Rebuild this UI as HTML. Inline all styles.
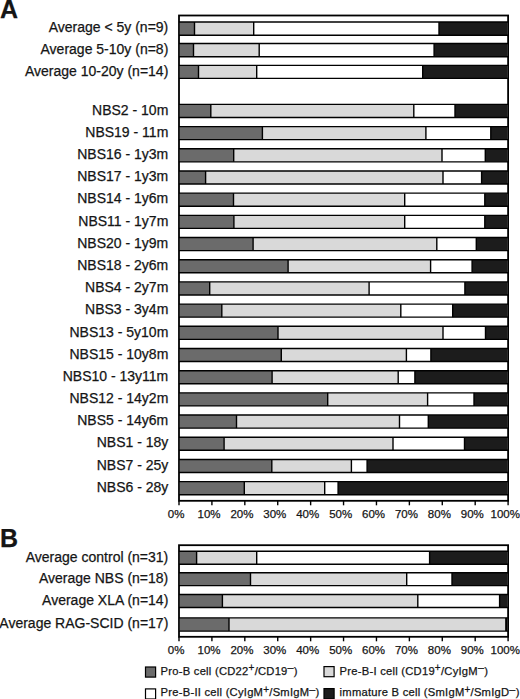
<!DOCTYPE html>
<html><head><meta charset="utf-8"><style>
html,body{margin:0;padding:0;background:#fff;}
body{width:520px;height:699px;overflow:hidden;}
svg{display:block;font-family:"Liberation Sans", sans-serif;fill:#111;}
text{stroke:#151515;stroke-width:0.25px;}
</style></head><body>
<svg width="520" height="699" viewBox="0 0 520 699">
<g fill="#151515">
<rect x="179.0" y="15.5" width="329.10" height="485.30" fill="none" stroke="#000" stroke-width="1.8"/>
<line x1="179.00" x2="179.00" y1="500.80" y2="505.30" stroke="#000" stroke-width="1.4"/>
<text x="176.10" y="518.3" text-anchor="middle" font-size="11.5">0%</text>
<line x1="211.91" x2="211.91" y1="500.80" y2="505.30" stroke="#000" stroke-width="1.4"/>
<text x="209.01" y="518.3" text-anchor="middle" font-size="11.5">10%</text>
<line x1="244.82" x2="244.82" y1="500.80" y2="505.30" stroke="#000" stroke-width="1.4"/>
<text x="241.92" y="518.3" text-anchor="middle" font-size="11.5">20%</text>
<line x1="277.73" x2="277.73" y1="500.80" y2="505.30" stroke="#000" stroke-width="1.4"/>
<text x="274.83" y="518.3" text-anchor="middle" font-size="11.5">30%</text>
<line x1="310.64" x2="310.64" y1="500.80" y2="505.30" stroke="#000" stroke-width="1.4"/>
<text x="307.74" y="518.3" text-anchor="middle" font-size="11.5">40%</text>
<line x1="343.55" x2="343.55" y1="500.80" y2="505.30" stroke="#000" stroke-width="1.4"/>
<text x="340.65" y="518.3" text-anchor="middle" font-size="11.5">50%</text>
<line x1="376.46" x2="376.46" y1="500.80" y2="505.30" stroke="#000" stroke-width="1.4"/>
<text x="373.56" y="518.3" text-anchor="middle" font-size="11.5">60%</text>
<line x1="409.37" x2="409.37" y1="500.80" y2="505.30" stroke="#000" stroke-width="1.4"/>
<text x="406.47" y="518.3" text-anchor="middle" font-size="11.5">70%</text>
<line x1="442.28" x2="442.28" y1="500.80" y2="505.30" stroke="#000" stroke-width="1.4"/>
<text x="439.38" y="518.3" text-anchor="middle" font-size="11.5">80%</text>
<line x1="475.19" x2="475.19" y1="500.80" y2="505.30" stroke="#000" stroke-width="1.4"/>
<text x="472.29" y="518.3" text-anchor="middle" font-size="11.5">90%</text>
<line x1="508.10" x2="508.10" y1="500.80" y2="505.30" stroke="#000" stroke-width="1.4"/>
<text x="505.20" y="518.3" text-anchor="middle" font-size="11.5">100%</text>
<rect x="179.90" y="22.00" width="14.60" height="13.30" fill="#6b6b6b"/>
<rect x="194.50" y="22.00" width="59.20" height="13.30" fill="#d9d9d9"/>
<rect x="253.70" y="22.00" width="185.30" height="13.30" fill="#ffffff"/>
<rect x="439.00" y="22.00" width="68.20" height="13.30" fill="#1c1c1c"/>
<line x1="179.00" x2="508.10" y1="22.00" y2="22.00" stroke="#000" stroke-width="1.4"/>
<line x1="179.00" x2="508.10" y1="35.30" y2="35.30" stroke="#000" stroke-width="1.4"/>
<line x1="194.50" x2="194.50" y1="22.00" y2="35.30" stroke="#000" stroke-width="1.4"/>
<line x1="253.70" x2="253.70" y1="22.00" y2="35.30" stroke="#000" stroke-width="1.4"/>
<line x1="439.00" x2="439.00" y1="22.00" y2="35.30" stroke="#000" stroke-width="1.4"/>
<text x="168.3" y="32.35" text-anchor="end" font-size="14">Average &lt; 5y (n=9)</text>
<rect x="179.90" y="43.50" width="13.60" height="13.20" fill="#6b6b6b"/>
<rect x="193.50" y="43.50" width="65.70" height="13.20" fill="#d9d9d9"/>
<rect x="259.20" y="43.50" width="174.90" height="13.20" fill="#ffffff"/>
<rect x="434.10" y="43.50" width="73.10" height="13.20" fill="#1c1c1c"/>
<line x1="179.00" x2="508.10" y1="43.50" y2="43.50" stroke="#000" stroke-width="1.4"/>
<line x1="179.00" x2="508.10" y1="56.70" y2="56.70" stroke="#000" stroke-width="1.4"/>
<line x1="193.50" x2="193.50" y1="43.50" y2="56.70" stroke="#000" stroke-width="1.4"/>
<line x1="259.20" x2="259.20" y1="43.50" y2="56.70" stroke="#000" stroke-width="1.4"/>
<line x1="434.10" x2="434.10" y1="43.50" y2="56.70" stroke="#000" stroke-width="1.4"/>
<text x="168.3" y="53.80" text-anchor="end" font-size="14">Average 5-10y (n=8)</text>
<rect x="179.90" y="65.40" width="18.60" height="13.00" fill="#6b6b6b"/>
<rect x="198.50" y="65.40" width="58.20" height="13.00" fill="#d9d9d9"/>
<rect x="256.70" y="65.40" width="166.00" height="13.00" fill="#ffffff"/>
<rect x="422.70" y="65.40" width="84.50" height="13.00" fill="#1c1c1c"/>
<line x1="179.00" x2="508.10" y1="65.40" y2="65.40" stroke="#000" stroke-width="1.4"/>
<line x1="179.00" x2="508.10" y1="78.40" y2="78.40" stroke="#000" stroke-width="1.4"/>
<line x1="198.50" x2="198.50" y1="65.40" y2="78.40" stroke="#000" stroke-width="1.4"/>
<line x1="256.70" x2="256.70" y1="65.40" y2="78.40" stroke="#000" stroke-width="1.4"/>
<line x1="422.70" x2="422.70" y1="65.40" y2="78.40" stroke="#000" stroke-width="1.4"/>
<text x="168.3" y="75.60" text-anchor="end" font-size="14">Average 10-20y (n=14)</text>
<rect x="179.90" y="104.40" width="30.90" height="13.05" fill="#6b6b6b"/>
<rect x="210.80" y="104.40" width="203.00" height="13.05" fill="#d9d9d9"/>
<rect x="413.80" y="104.40" width="41.20" height="13.05" fill="#ffffff"/>
<rect x="455.00" y="104.40" width="52.20" height="13.05" fill="#1c1c1c"/>
<line x1="179.00" x2="508.10" y1="104.40" y2="104.40" stroke="#000" stroke-width="1.4"/>
<line x1="179.00" x2="508.10" y1="117.45" y2="117.45" stroke="#000" stroke-width="1.4"/>
<line x1="210.80" x2="210.80" y1="104.40" y2="117.45" stroke="#000" stroke-width="1.4"/>
<line x1="413.80" x2="413.80" y1="104.40" y2="117.45" stroke="#000" stroke-width="1.4"/>
<line x1="455.00" x2="455.00" y1="104.40" y2="117.45" stroke="#000" stroke-width="1.4"/>
<text x="168.3" y="114.63" text-anchor="end" font-size="14">NBS2 - 10m</text>
<rect x="179.90" y="126.59" width="82.50" height="13.05" fill="#6b6b6b"/>
<rect x="262.40" y="126.59" width="163.50" height="13.05" fill="#d9d9d9"/>
<rect x="425.90" y="126.59" width="64.90" height="13.05" fill="#ffffff"/>
<rect x="490.80" y="126.59" width="16.40" height="13.05" fill="#1c1c1c"/>
<line x1="179.00" x2="508.10" y1="126.59" y2="126.59" stroke="#000" stroke-width="1.4"/>
<line x1="179.00" x2="508.10" y1="139.64" y2="139.64" stroke="#000" stroke-width="1.4"/>
<line x1="262.40" x2="262.40" y1="126.59" y2="139.64" stroke="#000" stroke-width="1.4"/>
<line x1="425.90" x2="425.90" y1="126.59" y2="139.64" stroke="#000" stroke-width="1.4"/>
<line x1="490.80" x2="490.80" y1="126.59" y2="139.64" stroke="#000" stroke-width="1.4"/>
<text x="168.3" y="136.81" text-anchor="end" font-size="14">NBS19 - 11m</text>
<rect x="179.90" y="148.78" width="53.80" height="13.05" fill="#6b6b6b"/>
<rect x="233.70" y="148.78" width="208.30" height="13.05" fill="#d9d9d9"/>
<rect x="442.00" y="148.78" width="43.30" height="13.05" fill="#ffffff"/>
<rect x="485.30" y="148.78" width="21.90" height="13.05" fill="#1c1c1c"/>
<line x1="179.00" x2="508.10" y1="148.78" y2="148.78" stroke="#000" stroke-width="1.4"/>
<line x1="179.00" x2="508.10" y1="161.83" y2="161.83" stroke="#000" stroke-width="1.4"/>
<line x1="233.70" x2="233.70" y1="148.78" y2="161.83" stroke="#000" stroke-width="1.4"/>
<line x1="442.00" x2="442.00" y1="148.78" y2="161.83" stroke="#000" stroke-width="1.4"/>
<line x1="485.30" x2="485.30" y1="148.78" y2="161.83" stroke="#000" stroke-width="1.4"/>
<text x="168.3" y="159.00" text-anchor="end" font-size="14">NBS16 - 1y3m</text>
<rect x="179.90" y="170.97" width="25.70" height="13.05" fill="#6b6b6b"/>
<rect x="205.60" y="170.97" width="237.40" height="13.05" fill="#d9d9d9"/>
<rect x="443.00" y="170.97" width="38.60" height="13.05" fill="#ffffff"/>
<rect x="481.60" y="170.97" width="25.60" height="13.05" fill="#1c1c1c"/>
<line x1="179.00" x2="508.10" y1="170.97" y2="170.97" stroke="#000" stroke-width="1.4"/>
<line x1="179.00" x2="508.10" y1="184.02" y2="184.02" stroke="#000" stroke-width="1.4"/>
<line x1="205.60" x2="205.60" y1="170.97" y2="184.02" stroke="#000" stroke-width="1.4"/>
<line x1="443.00" x2="443.00" y1="170.97" y2="184.02" stroke="#000" stroke-width="1.4"/>
<line x1="481.60" x2="481.60" y1="170.97" y2="184.02" stroke="#000" stroke-width="1.4"/>
<text x="168.3" y="181.20" text-anchor="end" font-size="14">NBS17 - 1y3m</text>
<rect x="179.90" y="193.16" width="53.60" height="13.05" fill="#6b6b6b"/>
<rect x="233.50" y="193.16" width="171.20" height="13.05" fill="#d9d9d9"/>
<rect x="404.70" y="193.16" width="80.10" height="13.05" fill="#ffffff"/>
<rect x="484.80" y="193.16" width="22.40" height="13.05" fill="#1c1c1c"/>
<line x1="179.00" x2="508.10" y1="193.16" y2="193.16" stroke="#000" stroke-width="1.4"/>
<line x1="179.00" x2="508.10" y1="206.21" y2="206.21" stroke="#000" stroke-width="1.4"/>
<line x1="233.50" x2="233.50" y1="193.16" y2="206.21" stroke="#000" stroke-width="1.4"/>
<line x1="404.70" x2="404.70" y1="193.16" y2="206.21" stroke="#000" stroke-width="1.4"/>
<line x1="484.80" x2="484.80" y1="193.16" y2="206.21" stroke="#000" stroke-width="1.4"/>
<text x="168.3" y="203.39" text-anchor="end" font-size="14">NBS14 - 1y6m</text>
<rect x="179.90" y="215.35" width="54.00" height="13.05" fill="#6b6b6b"/>
<rect x="233.90" y="215.35" width="170.80" height="13.05" fill="#d9d9d9"/>
<rect x="404.70" y="215.35" width="80.10" height="13.05" fill="#ffffff"/>
<rect x="484.80" y="215.35" width="22.40" height="13.05" fill="#1c1c1c"/>
<line x1="179.00" x2="508.10" y1="215.35" y2="215.35" stroke="#000" stroke-width="1.4"/>
<line x1="179.00" x2="508.10" y1="228.40" y2="228.40" stroke="#000" stroke-width="1.4"/>
<line x1="233.90" x2="233.90" y1="215.35" y2="228.40" stroke="#000" stroke-width="1.4"/>
<line x1="404.70" x2="404.70" y1="215.35" y2="228.40" stroke="#000" stroke-width="1.4"/>
<line x1="484.80" x2="484.80" y1="215.35" y2="228.40" stroke="#000" stroke-width="1.4"/>
<text x="168.3" y="225.58" text-anchor="end" font-size="14">NBS11 - 1y7m</text>
<rect x="179.90" y="237.54" width="73.20" height="13.05" fill="#6b6b6b"/>
<rect x="253.10" y="237.54" width="183.70" height="13.05" fill="#d9d9d9"/>
<rect x="436.80" y="237.54" width="39.50" height="13.05" fill="#ffffff"/>
<rect x="476.30" y="237.54" width="30.90" height="13.05" fill="#1c1c1c"/>
<line x1="179.00" x2="508.10" y1="237.54" y2="237.54" stroke="#000" stroke-width="1.4"/>
<line x1="179.00" x2="508.10" y1="250.59" y2="250.59" stroke="#000" stroke-width="1.4"/>
<line x1="253.10" x2="253.10" y1="237.54" y2="250.59" stroke="#000" stroke-width="1.4"/>
<line x1="436.80" x2="436.80" y1="237.54" y2="250.59" stroke="#000" stroke-width="1.4"/>
<line x1="476.30" x2="476.30" y1="237.54" y2="250.59" stroke="#000" stroke-width="1.4"/>
<text x="168.3" y="247.77" text-anchor="end" font-size="14">NBS20 - 1y9m</text>
<rect x="179.90" y="259.73" width="108.20" height="13.05" fill="#6b6b6b"/>
<rect x="288.10" y="259.73" width="142.50" height="13.05" fill="#d9d9d9"/>
<rect x="430.60" y="259.73" width="41.50" height="13.05" fill="#ffffff"/>
<rect x="472.10" y="259.73" width="35.10" height="13.05" fill="#1c1c1c"/>
<line x1="179.00" x2="508.10" y1="259.73" y2="259.73" stroke="#000" stroke-width="1.4"/>
<line x1="179.00" x2="508.10" y1="272.78" y2="272.78" stroke="#000" stroke-width="1.4"/>
<line x1="288.10" x2="288.10" y1="259.73" y2="272.78" stroke="#000" stroke-width="1.4"/>
<line x1="430.60" x2="430.60" y1="259.73" y2="272.78" stroke="#000" stroke-width="1.4"/>
<line x1="472.10" x2="472.10" y1="259.73" y2="272.78" stroke="#000" stroke-width="1.4"/>
<text x="168.3" y="269.95" text-anchor="end" font-size="14">NBS18 - 2y6m</text>
<rect x="179.90" y="281.92" width="29.80" height="13.05" fill="#6b6b6b"/>
<rect x="209.70" y="281.92" width="159.40" height="13.05" fill="#d9d9d9"/>
<rect x="369.10" y="281.92" width="95.80" height="13.05" fill="#ffffff"/>
<rect x="464.90" y="281.92" width="42.30" height="13.05" fill="#1c1c1c"/>
<line x1="179.00" x2="508.10" y1="281.92" y2="281.92" stroke="#000" stroke-width="1.4"/>
<line x1="179.00" x2="508.10" y1="294.97" y2="294.97" stroke="#000" stroke-width="1.4"/>
<line x1="209.70" x2="209.70" y1="281.92" y2="294.97" stroke="#000" stroke-width="1.4"/>
<line x1="369.10" x2="369.10" y1="281.92" y2="294.97" stroke="#000" stroke-width="1.4"/>
<line x1="464.90" x2="464.90" y1="281.92" y2="294.97" stroke="#000" stroke-width="1.4"/>
<text x="168.3" y="292.15" text-anchor="end" font-size="14">NBS4 - 2y7m</text>
<rect x="179.90" y="304.11" width="41.90" height="13.05" fill="#6b6b6b"/>
<rect x="221.80" y="304.11" width="179.00" height="13.05" fill="#d9d9d9"/>
<rect x="400.80" y="304.11" width="51.90" height="13.05" fill="#ffffff"/>
<rect x="452.70" y="304.11" width="54.50" height="13.05" fill="#1c1c1c"/>
<line x1="179.00" x2="508.10" y1="304.11" y2="304.11" stroke="#000" stroke-width="1.4"/>
<line x1="179.00" x2="508.10" y1="317.16" y2="317.16" stroke="#000" stroke-width="1.4"/>
<line x1="221.80" x2="221.80" y1="304.11" y2="317.16" stroke="#000" stroke-width="1.4"/>
<line x1="400.80" x2="400.80" y1="304.11" y2="317.16" stroke="#000" stroke-width="1.4"/>
<line x1="452.70" x2="452.70" y1="304.11" y2="317.16" stroke="#000" stroke-width="1.4"/>
<text x="168.3" y="314.33" text-anchor="end" font-size="14">NBS3 - 3y4m</text>
<rect x="179.90" y="326.30" width="98.10" height="13.05" fill="#6b6b6b"/>
<rect x="278.00" y="326.30" width="165.00" height="13.05" fill="#d9d9d9"/>
<rect x="443.00" y="326.30" width="42.50" height="13.05" fill="#ffffff"/>
<rect x="485.50" y="326.30" width="21.70" height="13.05" fill="#1c1c1c"/>
<line x1="179.00" x2="508.10" y1="326.30" y2="326.30" stroke="#000" stroke-width="1.4"/>
<line x1="179.00" x2="508.10" y1="339.35" y2="339.35" stroke="#000" stroke-width="1.4"/>
<line x1="278.00" x2="278.00" y1="326.30" y2="339.35" stroke="#000" stroke-width="1.4"/>
<line x1="443.00" x2="443.00" y1="326.30" y2="339.35" stroke="#000" stroke-width="1.4"/>
<line x1="485.50" x2="485.50" y1="326.30" y2="339.35" stroke="#000" stroke-width="1.4"/>
<text x="168.3" y="336.53" text-anchor="end" font-size="14">NBS13 - 5y10m</text>
<rect x="179.90" y="348.49" width="101.40" height="13.05" fill="#6b6b6b"/>
<rect x="281.30" y="348.49" width="125.10" height="13.05" fill="#d9d9d9"/>
<rect x="406.40" y="348.49" width="24.50" height="13.05" fill="#ffffff"/>
<rect x="430.90" y="348.49" width="76.30" height="13.05" fill="#1c1c1c"/>
<line x1="179.00" x2="508.10" y1="348.49" y2="348.49" stroke="#000" stroke-width="1.4"/>
<line x1="179.00" x2="508.10" y1="361.54" y2="361.54" stroke="#000" stroke-width="1.4"/>
<line x1="281.30" x2="281.30" y1="348.49" y2="361.54" stroke="#000" stroke-width="1.4"/>
<line x1="406.40" x2="406.40" y1="348.49" y2="361.54" stroke="#000" stroke-width="1.4"/>
<line x1="430.90" x2="430.90" y1="348.49" y2="361.54" stroke="#000" stroke-width="1.4"/>
<text x="168.3" y="358.71" text-anchor="end" font-size="14">NBS15 - 10y8m</text>
<rect x="179.90" y="370.68" width="92.20" height="13.05" fill="#6b6b6b"/>
<rect x="272.10" y="370.68" width="126.10" height="13.05" fill="#d9d9d9"/>
<rect x="398.20" y="370.68" width="16.70" height="13.05" fill="#ffffff"/>
<rect x="414.90" y="370.68" width="92.30" height="13.05" fill="#1c1c1c"/>
<line x1="179.00" x2="508.10" y1="370.68" y2="370.68" stroke="#000" stroke-width="1.4"/>
<line x1="179.00" x2="508.10" y1="383.73" y2="383.73" stroke="#000" stroke-width="1.4"/>
<line x1="272.10" x2="272.10" y1="370.68" y2="383.73" stroke="#000" stroke-width="1.4"/>
<line x1="398.20" x2="398.20" y1="370.68" y2="383.73" stroke="#000" stroke-width="1.4"/>
<line x1="414.90" x2="414.90" y1="370.68" y2="383.73" stroke="#000" stroke-width="1.4"/>
<text x="168.3" y="380.91" text-anchor="end" font-size="14">NBS10 - 13y11m</text>
<rect x="179.90" y="392.87" width="147.80" height="13.05" fill="#6b6b6b"/>
<rect x="327.70" y="392.87" width="99.90" height="13.05" fill="#d9d9d9"/>
<rect x="427.60" y="392.87" width="46.40" height="13.05" fill="#ffffff"/>
<rect x="474.00" y="392.87" width="33.20" height="13.05" fill="#1c1c1c"/>
<line x1="179.00" x2="508.10" y1="392.87" y2="392.87" stroke="#000" stroke-width="1.4"/>
<line x1="179.00" x2="508.10" y1="405.92" y2="405.92" stroke="#000" stroke-width="1.4"/>
<line x1="327.70" x2="327.70" y1="392.87" y2="405.92" stroke="#000" stroke-width="1.4"/>
<line x1="427.60" x2="427.60" y1="392.87" y2="405.92" stroke="#000" stroke-width="1.4"/>
<line x1="474.00" x2="474.00" y1="392.87" y2="405.92" stroke="#000" stroke-width="1.4"/>
<text x="168.3" y="403.09" text-anchor="end" font-size="14">NBS12 - 14y2m</text>
<rect x="179.90" y="415.06" width="56.60" height="13.05" fill="#6b6b6b"/>
<rect x="236.50" y="415.06" width="163.00" height="13.05" fill="#d9d9d9"/>
<rect x="399.50" y="415.06" width="28.80" height="13.05" fill="#ffffff"/>
<rect x="428.30" y="415.06" width="78.90" height="13.05" fill="#1c1c1c"/>
<line x1="179.00" x2="508.10" y1="415.06" y2="415.06" stroke="#000" stroke-width="1.4"/>
<line x1="179.00" x2="508.10" y1="428.11" y2="428.11" stroke="#000" stroke-width="1.4"/>
<line x1="236.50" x2="236.50" y1="415.06" y2="428.11" stroke="#000" stroke-width="1.4"/>
<line x1="399.50" x2="399.50" y1="415.06" y2="428.11" stroke="#000" stroke-width="1.4"/>
<line x1="428.30" x2="428.30" y1="415.06" y2="428.11" stroke="#000" stroke-width="1.4"/>
<text x="168.3" y="425.29" text-anchor="end" font-size="14">NBS5 - 14y6m</text>
<rect x="179.90" y="437.25" width="44.20" height="13.05" fill="#6b6b6b"/>
<rect x="224.10" y="437.25" width="168.90" height="13.05" fill="#d9d9d9"/>
<rect x="393.00" y="437.25" width="71.50" height="13.05" fill="#ffffff"/>
<rect x="464.50" y="437.25" width="42.70" height="13.05" fill="#1c1c1c"/>
<line x1="179.00" x2="508.10" y1="437.25" y2="437.25" stroke="#000" stroke-width="1.4"/>
<line x1="179.00" x2="508.10" y1="450.30" y2="450.30" stroke="#000" stroke-width="1.4"/>
<line x1="224.10" x2="224.10" y1="437.25" y2="450.30" stroke="#000" stroke-width="1.4"/>
<line x1="393.00" x2="393.00" y1="437.25" y2="450.30" stroke="#000" stroke-width="1.4"/>
<line x1="464.50" x2="464.50" y1="437.25" y2="450.30" stroke="#000" stroke-width="1.4"/>
<text x="168.3" y="447.47" text-anchor="end" font-size="14">NBS1 - 18y</text>
<rect x="179.90" y="459.44" width="91.90" height="13.05" fill="#6b6b6b"/>
<rect x="271.80" y="459.44" width="79.60" height="13.05" fill="#d9d9d9"/>
<rect x="351.40" y="459.44" width="15.70" height="13.05" fill="#ffffff"/>
<rect x="367.10" y="459.44" width="140.10" height="13.05" fill="#1c1c1c"/>
<line x1="179.00" x2="508.10" y1="459.44" y2="459.44" stroke="#000" stroke-width="1.4"/>
<line x1="179.00" x2="508.10" y1="472.49" y2="472.49" stroke="#000" stroke-width="1.4"/>
<line x1="271.80" x2="271.80" y1="459.44" y2="472.49" stroke="#000" stroke-width="1.4"/>
<line x1="351.40" x2="351.40" y1="459.44" y2="472.49" stroke="#000" stroke-width="1.4"/>
<line x1="367.10" x2="367.10" y1="459.44" y2="472.49" stroke="#000" stroke-width="1.4"/>
<text x="168.3" y="469.67" text-anchor="end" font-size="14">NBS7 - 25y</text>
<rect x="179.90" y="481.63" width="64.40" height="13.05" fill="#6b6b6b"/>
<rect x="244.30" y="481.63" width="80.40" height="13.05" fill="#d9d9d9"/>
<rect x="324.70" y="481.63" width="13.40" height="13.05" fill="#ffffff"/>
<rect x="338.10" y="481.63" width="169.10" height="13.05" fill="#1c1c1c"/>
<line x1="179.00" x2="508.10" y1="481.63" y2="481.63" stroke="#000" stroke-width="1.4"/>
<line x1="179.00" x2="508.10" y1="494.68" y2="494.68" stroke="#000" stroke-width="1.4"/>
<line x1="244.30" x2="244.30" y1="481.63" y2="494.68" stroke="#000" stroke-width="1.4"/>
<line x1="324.70" x2="324.70" y1="481.63" y2="494.68" stroke="#000" stroke-width="1.4"/>
<line x1="338.10" x2="338.10" y1="481.63" y2="494.68" stroke="#000" stroke-width="1.4"/>
<text x="168.3" y="491.85" text-anchor="end" font-size="14">NBS6 - 28y</text>
<rect x="179.0" y="545.2" width="329.10" height="91.60" fill="none" stroke="#000" stroke-width="1.8"/>
<line x1="179.00" x2="179.00" y1="636.80" y2="641.30" stroke="#000" stroke-width="1.4"/>
<text x="176.10" y="654.3" text-anchor="middle" font-size="11.5">0%</text>
<line x1="211.91" x2="211.91" y1="636.80" y2="641.30" stroke="#000" stroke-width="1.4"/>
<text x="209.01" y="654.3" text-anchor="middle" font-size="11.5">10%</text>
<line x1="244.82" x2="244.82" y1="636.80" y2="641.30" stroke="#000" stroke-width="1.4"/>
<text x="241.92" y="654.3" text-anchor="middle" font-size="11.5">20%</text>
<line x1="277.73" x2="277.73" y1="636.80" y2="641.30" stroke="#000" stroke-width="1.4"/>
<text x="274.83" y="654.3" text-anchor="middle" font-size="11.5">30%</text>
<line x1="310.64" x2="310.64" y1="636.80" y2="641.30" stroke="#000" stroke-width="1.4"/>
<text x="307.74" y="654.3" text-anchor="middle" font-size="11.5">40%</text>
<line x1="343.55" x2="343.55" y1="636.80" y2="641.30" stroke="#000" stroke-width="1.4"/>
<text x="340.65" y="654.3" text-anchor="middle" font-size="11.5">50%</text>
<line x1="376.46" x2="376.46" y1="636.80" y2="641.30" stroke="#000" stroke-width="1.4"/>
<text x="373.56" y="654.3" text-anchor="middle" font-size="11.5">60%</text>
<line x1="409.37" x2="409.37" y1="636.80" y2="641.30" stroke="#000" stroke-width="1.4"/>
<text x="406.47" y="654.3" text-anchor="middle" font-size="11.5">70%</text>
<line x1="442.28" x2="442.28" y1="636.80" y2="641.30" stroke="#000" stroke-width="1.4"/>
<text x="439.38" y="654.3" text-anchor="middle" font-size="11.5">80%</text>
<line x1="475.19" x2="475.19" y1="636.80" y2="641.30" stroke="#000" stroke-width="1.4"/>
<text x="472.29" y="654.3" text-anchor="middle" font-size="11.5">90%</text>
<line x1="508.10" x2="508.10" y1="636.80" y2="641.30" stroke="#000" stroke-width="1.4"/>
<text x="505.20" y="654.3" text-anchor="middle" font-size="11.5">100%</text>
<rect x="179.90" y="551.30" width="16.70" height="13.00" fill="#6b6b6b"/>
<rect x="196.60" y="551.30" width="60.10" height="13.00" fill="#d9d9d9"/>
<rect x="256.70" y="551.30" width="172.90" height="13.00" fill="#ffffff"/>
<rect x="429.60" y="551.30" width="77.60" height="13.00" fill="#1c1c1c"/>
<line x1="179.00" x2="508.10" y1="551.30" y2="551.30" stroke="#000" stroke-width="1.4"/>
<line x1="179.00" x2="508.10" y1="564.30" y2="564.30" stroke="#000" stroke-width="1.4"/>
<line x1="196.60" x2="196.60" y1="551.30" y2="564.30" stroke="#000" stroke-width="1.4"/>
<line x1="256.70" x2="256.70" y1="551.30" y2="564.30" stroke="#000" stroke-width="1.4"/>
<line x1="429.60" x2="429.60" y1="551.30" y2="564.30" stroke="#000" stroke-width="1.4"/>
<text x="168.3" y="561.50" text-anchor="end" font-size="14">Average control (n=31)</text>
<rect x="179.90" y="572.80" width="70.60" height="12.80" fill="#6b6b6b"/>
<rect x="250.50" y="572.80" width="156.20" height="12.80" fill="#d9d9d9"/>
<rect x="406.70" y="572.80" width="45.30" height="12.80" fill="#ffffff"/>
<rect x="452.00" y="572.80" width="55.20" height="12.80" fill="#1c1c1c"/>
<line x1="179.00" x2="508.10" y1="572.80" y2="572.80" stroke="#000" stroke-width="1.4"/>
<line x1="179.00" x2="508.10" y1="585.60" y2="585.60" stroke="#000" stroke-width="1.4"/>
<line x1="250.50" x2="250.50" y1="572.80" y2="585.60" stroke="#000" stroke-width="1.4"/>
<line x1="406.70" x2="406.70" y1="572.80" y2="585.60" stroke="#000" stroke-width="1.4"/>
<line x1="452.00" x2="452.00" y1="572.80" y2="585.60" stroke="#000" stroke-width="1.4"/>
<text x="168.3" y="582.90" text-anchor="end" font-size="14">Average NBS (n=18)</text>
<rect x="179.90" y="594.50" width="42.50" height="13.00" fill="#6b6b6b"/>
<rect x="222.40" y="594.50" width="195.40" height="13.00" fill="#d9d9d9"/>
<rect x="417.80" y="594.50" width="81.80" height="13.00" fill="#ffffff"/>
<rect x="499.60" y="594.50" width="7.60" height="13.00" fill="#1c1c1c"/>
<line x1="179.00" x2="508.10" y1="594.50" y2="594.50" stroke="#000" stroke-width="1.4"/>
<line x1="179.00" x2="508.10" y1="607.50" y2="607.50" stroke="#000" stroke-width="1.4"/>
<line x1="222.40" x2="222.40" y1="594.50" y2="607.50" stroke="#000" stroke-width="1.4"/>
<line x1="417.80" x2="417.80" y1="594.50" y2="607.50" stroke="#000" stroke-width="1.4"/>
<line x1="499.60" x2="499.60" y1="594.50" y2="607.50" stroke="#000" stroke-width="1.4"/>
<text x="168.3" y="604.70" text-anchor="end" font-size="14">Average XLA (n=14)</text>
<rect x="179.90" y="617.90" width="49.10" height="13.20" fill="#6b6b6b"/>
<rect x="229.00" y="617.90" width="276.90" height="13.20" fill="#d9d9d9"/>
<rect x="505.90" y="617.90" width="0.50" height="13.20" fill="#ffffff"/>
<rect x="506.40" y="617.90" width="0.80" height="13.20" fill="#1c1c1c"/>
<line x1="179.00" x2="508.10" y1="617.90" y2="617.90" stroke="#000" stroke-width="1.4"/>
<line x1="179.00" x2="508.10" y1="631.10" y2="631.10" stroke="#000" stroke-width="1.4"/>
<line x1="229.00" x2="229.00" y1="617.90" y2="631.10" stroke="#000" stroke-width="1.4"/>
<line x1="505.90" x2="505.90" y1="617.90" y2="631.10" stroke="#000" stroke-width="1.4"/>
<line x1="506.40" x2="506.40" y1="617.90" y2="631.10" stroke="#000" stroke-width="1.4"/>
<text x="168.3" y="628.20" text-anchor="end" font-size="14">Average RAG-SCID (n=17)</text>
<text x="0" y="18.0" font-size="25" font-weight="bold">A</text>
<text x="0" y="546.6" font-size="25" font-weight="bold">B</text>
<rect x="145.5" y="667.0" width="10.1" height="10.1" fill="#6b6b6b" stroke="#000" stroke-width="1.2"/>
<text x="160.6" y="674.8" font-size="11.2" letter-spacing="0.25">Pro-B cell (CD22<tspan dy="-3.6" font-size="10">+</tspan><tspan dy="3.6">/CD19</tspan><tspan dy="-3.4" font-size="10.8">&#8211;</tspan><tspan dy="3.4">)</tspan></text>
<rect x="324.0" y="666.6" width="10.1" height="10.1" fill="#d9d9d9" stroke="#000" stroke-width="1.2"/>
<text x="339.6" y="674.6" font-size="11.2" letter-spacing="0.25">Pre-B-I cell (CD19<tspan dy="-3.6" font-size="10">+</tspan><tspan dy="3.6">/CyIgM</tspan><tspan dy="-3.4" font-size="10.8">&#8211;</tspan><tspan dy="3.4">)</tspan></text>
<rect x="145.5" y="688.9" width="10.1" height="10.1" fill="#ffffff" stroke="#000" stroke-width="1.2"/>
<text x="160.6" y="696.2" font-size="11.2" letter-spacing="0.25">Pre-B-II cell (CyIgM<tspan dy="-3.6" font-size="10">+</tspan><tspan dy="3.6">/SmIgM</tspan><tspan dy="-3.4" font-size="10.8">&#8211;</tspan><tspan dy="3.4">)</tspan></text>
<rect x="324.0" y="688.6" width="10.1" height="10.1" fill="#1c1c1c" stroke="#000" stroke-width="1.2"/>
<text x="339.6" y="696.2" font-size="11.2" letter-spacing="0.25">immature B cell (SmIgM<tspan dy="-3.6" font-size="10">+</tspan><tspan dy="3.6">/SmIgD</tspan><tspan dy="-3.4" font-size="10.8">&#8211;</tspan><tspan dy="3.4">)</tspan></text>
</g>
</svg>
</body></html>
